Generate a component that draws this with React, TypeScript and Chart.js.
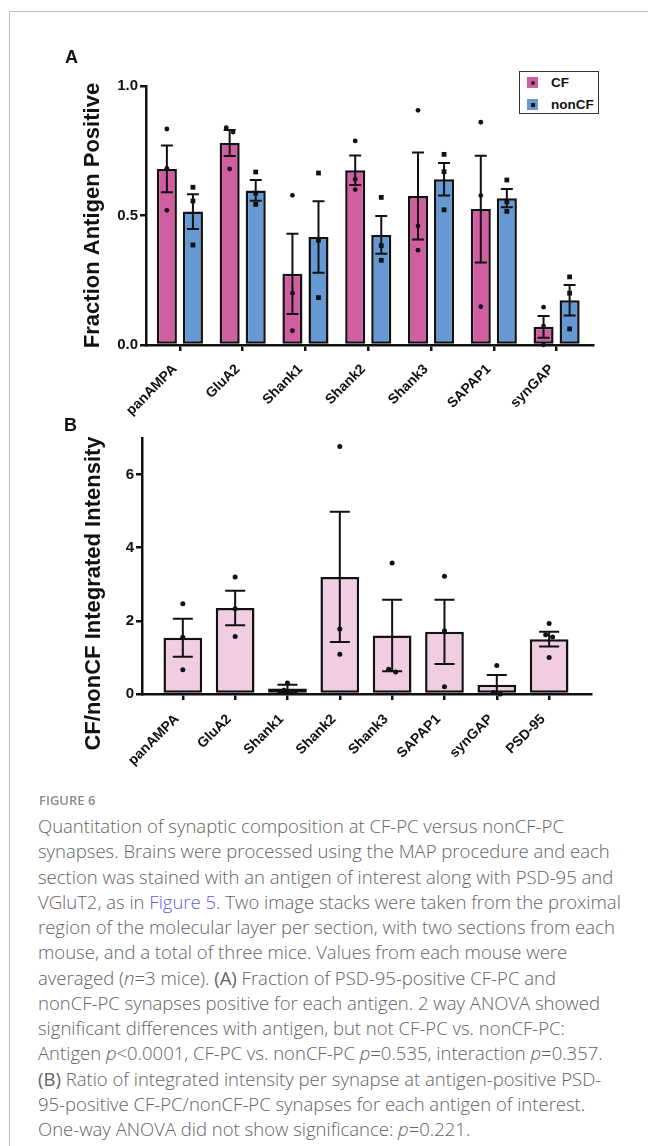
import React, { useEffect, useRef } from 'react';
import { Chart, registerables } from 'chart.js';

Chart.register(...registerables);

// ---------- Panel A data ----------
const categoriesA = ['panAMPA', 'GluA2', 'Shank1', 'Shank2', 'Shank3', 'SAPAP1', 'synGAP'];
const seriesNames = ['CF', 'nonCF'];
const cfMeans = [0.68, 0.78, 0.275, 0.675, 0.575, 0.525, 0.07];
const cfSem = [0.09, 0.05, 0.155, 0.057, 0.168, 0.206, 0.042];
const cfPoints = [
  [0.834, 0.682, 0.52],
  [0.839, 0.822, 0.68],
  [0.578, 0.2, 0.055],
  [0.788, 0.64, 0.6],
  [0.906, 0.459, 0.366],
  [0.86, 0.577, 0.148],
  [0.146, 0.073, 0.001],
];
const nonCfMeans = [0.515, 0.597, 0.417, 0.425, 0.64, 0.567, 0.173];
const nonCfSem = [0.067, 0.04, 0.138, 0.073, 0.063, 0.035, 0.059];
const nonCfPoints = [
  [0.609, 0.556, 0.386],
  [0.668, 0.586, 0.543],
  [0.664, 0.405, 0.183],
  [0.57, 0.384, 0.327],
  [0.736, 0.669, 0.522],
  [0.637, 0.553, 0.516],
  [0.263, 0.2, 0.062],
];
const yTicksA = [0, 0.5, 1.0];

// ---------- Panel B data ----------
const categoriesB = ['panAMPA', 'GluA2', 'Shank1', 'Shank2', 'Shank3', 'SAPAP1', 'synGAP', 'PSD-95'];
const ratioMeans = [1.54, 2.35, 0.15, 3.2, 1.6, 1.7, 0.25, 1.5];
const ratioSem = [0.52, 0.47, 0.1, 1.78, 0.98, 0.88, 0.27, 0.2];
const ratioPoints = [
  [2.47, 1.55, 0.66],
  [3.2, 2.33, 1.57],
  [0.3, 0.1, 0.06],
  [6.77, 1.78, 1.09],
  [3.58, 0.68, 0.6],
  [3.22, 1.73, 0.2],
  [0.78, 0.04, 0.0],
  [1.93, 1.62, 1.56, 1.0],
];
const yTicksB = [0, 2, 4, 6];

// ---------- styles ----------
const PINK = '#D25EA2';
const BLUE = '#6699D4';
const LIGHT_PINK = '#F0CDE1';
const INK = '#111111';
const FONT = "'Liberation Sans', Arial, Helvetica, sans-serif";

const errorPointsPlugin = {
  id: 'errorPoints',
  afterDatasetsDraw(chart: any, _args: any, opts: any) {
    const { ctx } = chart;
    const yScale = chart.scales.y;
    chart.data.datasets.forEach((ds: any, di: number) => {
      const meta = chart.getDatasetMeta(di);
      const sem = opts.sem[di];
      const pts = opts.points[di];
      const shape = opts.shapes[di];
      meta.data.forEach((bar: any, i: number) => {
        const x = bar.x;
        const mean = ds.data[i].y;
        const e = sem[i];
        const yTop = yScale.getPixelForValue(mean + e);
        const yBot = yScale.getPixelForValue(Math.max(mean - e, 0));
        ctx.save();
        ctx.strokeStyle = INK;
        ctx.lineWidth = opts.lineWidth;
        ctx.beginPath();
        ctx.moveTo(x, yTop);
        ctx.lineTo(x, yBot);
        ctx.moveTo(x - opts.capHalf, yTop);
        ctx.lineTo(x + opts.capHalf, yTop);
        ctx.moveTo(x - opts.capHalf, yBot);
        ctx.lineTo(x + opts.capHalf, yBot);
        ctx.stroke();
        // points, spread sideways when they overlap
        const r = opts.radius;
        const py = pts[i].map((v: number) => yScale.getPixelForValue(v)).sort((a: number, b: number) => a - b);
        const groups: number[][] = [];
        py.forEach((p: number) => {
          const g = groups[groups.length - 1];
          if (g && p - g[g.length - 1] < 2 * r + 1) g.push(p);
          else groups.push([p]);
        });
        ctx.fillStyle = INK;
        groups.forEach((g) => {
          g.forEach((p, k) => {
            const px = x + (k - (g.length - 1) / 2) * (2 * r + 2);
            if (shape === 'square') {
              ctx.fillRect(px - r, p - r, 2 * r, 2 * r);
            } else {
              ctx.beginPath();
              ctx.arc(px, p, r, 0, Math.PI * 2);
              ctx.fill();
            }
          });
        });
        ctx.restore();
      });
    });
  },
};

function axisCommon() {
  return {
    grid: {
      display: true,
      drawOnChartArea: false,
      drawTicks: true,
      tickLength: 6,
      color: INK,
      lineWidth: 2.5,
      offset: false,
    },
    border: { display: true, color: INK, width: 2.5 },
  };
}

const xTickFont = { family: FONT, size: 14, weight: 'bold' };
const yTickFont = { family: FONT, size: 15, weight: 'bold' };
const titleFont = { family: FONT, size: 22, weight: 'bold' };

function ChartA() {
  const ref = useRef<HTMLCanvasElement>(null);
  useEffect(() => {
    const chart = new Chart(ref.current as HTMLCanvasElement, {
      type: 'bar',
      data: {
        datasets: [
          {
            label: seriesNames[0],
            data: cfMeans.map((v, i) => ({ x: i, y: v })),
            backgroundColor: PINK,
            borderColor: INK,
            borderWidth: 2.5,
            borderSkipped: false,
          },
          {
            label: seriesNames[1],
            data: nonCfMeans.map((v, i) => ({ x: i, y: v })),
            backgroundColor: BLUE,
            borderColor: INK,
            borderWidth: 2.5,
            borderSkipped: false,
          },
        ],
      } as any,
      options: {
        responsive: false,
        animation: false,
        events: [],
        layout: { padding: { left: 0, top: 86, right: 55, bottom: 0 } },
        datasets: { bar: { categoryPercentage: 0.83, barPercentage: 0.77 } },
        scales: {
          x: {
            type: 'linear',
            min: -0.54,
            max: 6.58,
            offset: false,
            ...axisCommon(),
            ticks: {
              autoSkip: false,
              minRotation: 45,
              maxRotation: 45,
              padding: 10,
              labelOffset: -5,
              color: INK,
              font: xTickFont,
              callback: (_v: any, i: number) => categoriesA[i],
            },
            afterBuildTicks: (s: any) => {
              s.ticks = categoriesA.map((_, i) => ({ value: i }));
            },
            afterFit: (s: any) => {
              s.height = 95;
            },
          },
          y: {
            type: 'linear',
            min: 0,
            max: 1,
            ...axisCommon(),
            ticks: {
              padding: 2,
              color: INK,
              font: yTickFont,
              callback: (v: any) => Number(v).toFixed(1),
            },
            afterBuildTicks: (s: any) => {
              s.ticks = yTicksA.map((v) => ({ value: v }));
            },
            title: {
              display: true,
              text: 'Fraction Antigen Positive',
              color: INK,
              font: titleFont,
              padding: { top: 80, bottom: 0 },
            },
            afterFit: (s: any) => {
              s.width = 146;
            },
          },
        },
        plugins: {
          legend: { display: false },
          tooltip: { enabled: false },
          errorPoints: {
            sem: [cfSem, nonCfSem],
            points: [cfPoints, nonCfPoints],
            shapes: ['circle', 'square'],
            capHalf: 6,
            lineWidth: 2,
            radius: 2.4,
          },
        } as any,
      } as any,
      plugins: [errorPointsPlugin],
    });
    return () => chart.destroy();
  }, []);
  return <canvas ref={ref} width={648} height={440} style={{ position: 'absolute', left: 0, top: 0, width: 648, height: 440 }} />;
}

function ChartB() {
  const ref = useRef<HTMLCanvasElement>(null);
  useEffect(() => {
    const chart = new Chart(ref.current as HTMLCanvasElement, {
      type: 'bar',
      data: {
        datasets: [
          {
            label: 'CF/nonCF',
            data: ratioMeans.map((v, i) => ({ x: i, y: v })),
            backgroundColor: LIGHT_PINK,
            borderColor: INK,
            borderWidth: 2.5,
            borderSkipped: false,
          },
        ],
      } as any,
      options: {
        responsive: false,
        animation: false,
        events: [],
        layout: { padding: { left: 0, top: 38, right: 57, bottom: 0 } },
        datasets: { bar: { categoryPercentage: 1, barPercentage: 0.74 } },
        scales: {
          x: {
            type: 'linear',
            min: -0.78,
            max: 7.8,
            offset: false,
            ...axisCommon(),
            ticks: {
              autoSkip: false,
              minRotation: 45,
              maxRotation: 45,
              padding: 11,
              labelOffset: -6,
              color: INK,
              font: xTickFont,
              callback: (_v: any, i: number) => categoriesB[i],
            },
            afterBuildTicks: (s: any) => {
              s.ticks = categoriesB.map((_, i) => ({ value: i }));
            },
            afterFit: (s: any) => {
              s.height = 106;
            },
          },
          y: {
            type: 'linear',
            min: 0,
            max: 7,
            ...axisCommon(),
            ticks: {
              padding: 2,
              color: INK,
              font: yTickFont,
              callback: (v: any) => String(v),
            },
            afterBuildTicks: (s: any) => {
              s.ticks = yTicksB.map((v) => ({ value: v }));
            },
            title: {
              display: true,
              text: 'CF/nonCF Integrated Intensity' + '\u00a0'.repeat(9),
              color: INK,
              font: titleFont,
              padding: { top: 81, bottom: 0 },
            },
            afterFit: (s: any) => {
              s.width = 142;
            },
          },
        },
        plugins: {
          legend: { display: false },
          tooltip: { enabled: false },
          errorPoints: {
            sem: [ratioSem],
            points: [ratioPoints],
            shapes: ['circle'],
            capHalf: 10,
            lineWidth: 2,
            radius: 2.5,
          },
        } as any,
      } as any,
      plugins: [errorPointsPlugin],
    });
    return () => chart.destroy();
  }, []);
  return <canvas ref={ref} width={648} height={400} style={{ position: 'absolute', left: 0, top: 400, width: 648, height: 400 }} />;
}

function Legend() {
  const item = (name: string, color: string, square: boolean, top: number) => (
    <div key={name} style={{ position: 'absolute', left: 0, top, height: 12, width: 80 }}>
      <div style={{ position: 'absolute', left: 7, top: 0, width: 11, height: 11, background: color }}>
        <div
          style={{
            position: 'absolute',
            left: 3.5,
            top: 3.5,
            width: 4,
            height: 4,
            background: INK,
            borderRadius: square ? 0 : 2,
          }}
        />
      </div>
      <div style={{ position: 'absolute', left: 31, top: -2, fontFamily: FONT, fontWeight: 'bold', fontSize: 13.5, lineHeight: '15px', color: INK }}>
        {name}
      </div>
    </div>
  );
  return (
    <div style={{ position: 'absolute', left: 519, top: 71, width: 80, height: 43, border: '1px solid #333', boxSizing: 'border-box', background: '#fff' }}>
      {item(seriesNames[0], PINK, false, 5)}
      {item(seriesNames[1], BLUE, true, 27)}
    </div>
  );
}

const CAP_FONT = "'Open Sans', 'Noto Sans', sans-serif";

const capStyle: React.CSSProperties = {
  position: 'absolute',
  left: 38,
  top: 813,
  fontFamily: CAP_FONT,
  fontWeight: 300,
  fontSize: 18.5,
  lineHeight: '25.25px',
  color: '#626262',
  whiteSpace: 'nowrap',
};

function Caption() {
  const link = { color: '#5f5fd8' };
  return (
    <>
      <div style={{ position: 'absolute', left: 39, top: 791, fontFamily: CAP_FONT, fontWeight: 600, fontSize: 13, color: '#8a8a8a', whiteSpace: 'nowrap' }}>
        FIGURE 6
      </div>
      <div style={capStyle}>
        <div>Quantitation of synaptic composition at CF-PC versus nonCF-PC</div>
        <div>synapses. Brains were processed using the MAP procedure and each</div>
        <div>section was stained with an antigen of interest along with PSD-95 and</div>
        <div>
          VGluT2, as in <span style={link}>Figure 5</span>. Two image stacks were taken from the proximal
        </div>
        <div>region of the molecular layer per section, with two sections from each</div>
        <div>mouse, and a total of three mice. Values from each mouse were</div>
        <div>
          averaged (<i>n</i>=3 mice). <b>(A)</b> Fraction of PSD-95-positive CF-PC and
        </div>
        <div>nonCF-PC synapses positive for each antigen. 2 way ANOVA showed</div>
        <div>significant differences with antigen, but not CF-PC vs. nonCF-PC:</div>
        <div>
          Antigen <i>p</i>&lt;0.0001, CF-PC vs. nonCF-PC <i>p</i>=0.535, interaction <i>p</i>=0.357.
        </div>
        <div>
          <b>(B)</b> Ratio of integrated intensity per synapse at antigen-positive PSD-
        </div>
        <div>95-positive CF-PC/nonCF-PC synapses for each antigen of interest.</div>
        <div>
          One-way ANOVA did not show significance: <i>p</i>=0.221.
        </div>
      </div>
    </>
  );
}

export default function App() {
  return (
    <div style={{ position: 'absolute', left: 0, top: 0, width: 648, height: 1146, overflow: 'hidden', background: '#fff' }}>
      <div style={{ position: 'absolute', left: 9, top: 11, width: 700, height: 1200, borderTop: '1px solid #bdbdbd', borderLeft: '1px solid #bdbdbd' }} />
      <ChartA />
      <ChartB />
      <Legend />
      <div style={{ position: 'absolute', left: 65, top: 47, fontFamily: FONT, fontWeight: 'bold', fontSize: 18, color: INK }}>A</div>
      <div style={{ position: 'absolute', left: 64, top: 415, fontFamily: FONT, fontWeight: 'bold', fontSize: 18, color: INK }}>B</div>
      <Caption />
    </div>
  );
}
